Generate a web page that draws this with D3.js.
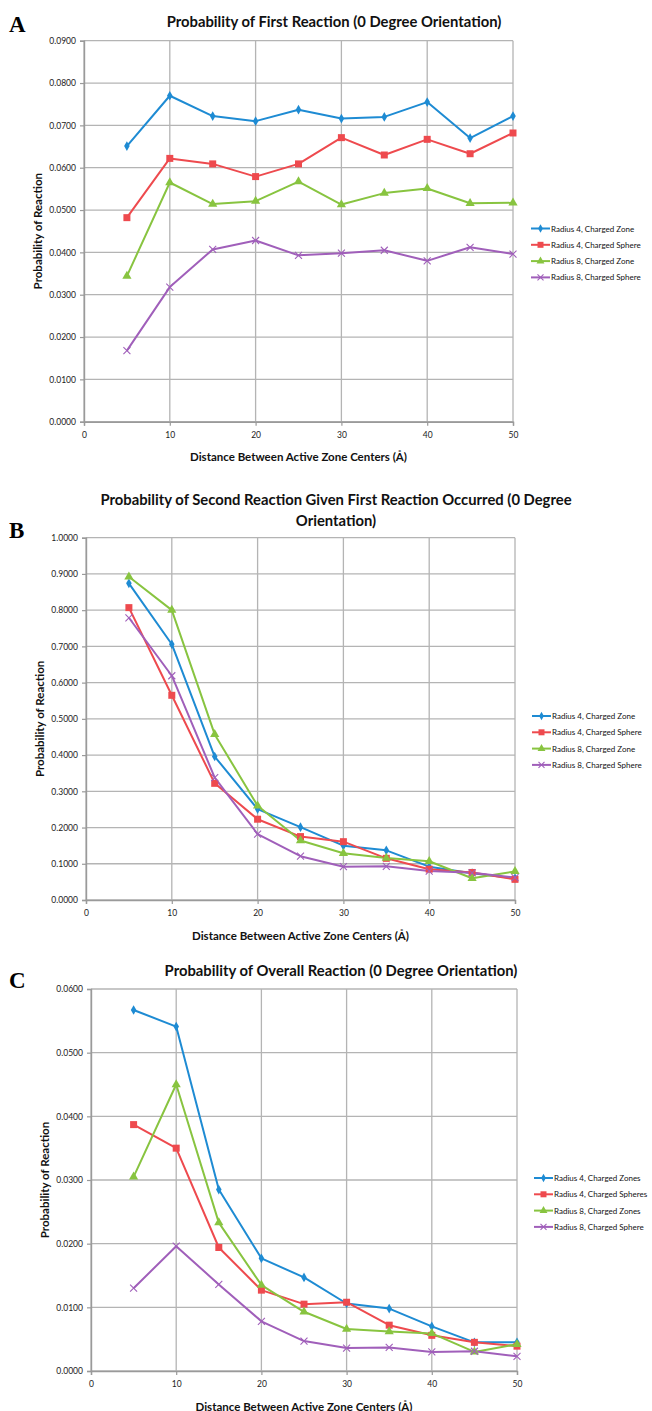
<!DOCTYPE html>
<html><head><meta charset="utf-8">
<script src="https://cdn.jsdelivr.net/npm/d3@7/dist/d3.min.js"></script>
<style>body{margin:0;background:#fff}svg{display:block}</style>
</head><body>
<svg id="c" width="652" height="1411"></svg>
<script>
const distances = [5,10,15,20,25,30,35,40,45,50];
const xTicks = [0,10,20,30,40,50];

const seriesNamesAB = ["Radius 4, Charged Zone","Radius 4, Charged Sphere","Radius 8, Charged Zone","Radius 8, Charged Sphere"];
const seriesNamesC = ["Radius 4, Charged Zones","Radius 4, Charged Spheres","Radius 8, Charged Zones","Radius 8, Charged Sphere"];

// Panel A: Probability of First Reaction
const firstR4Zone   = [0.0651,0.0770,0.0722,0.0710,0.0737,0.0716,0.0720,0.0755,0.0670,0.0722];
const firstR4Sphere = [0.0482,0.0622,0.0609,0.0579,0.0609,0.0671,0.0630,0.0667,0.0633,0.0682];
const firstR8Zone   = [0.0344,0.0565,0.0514,0.0521,0.0567,0.0513,0.0540,0.0551,0.0516,0.0517];
const firstR8Sphere = [0.0168,0.0318,0.0407,0.0428,0.0393,0.0398,0.0405,0.0380,0.0412,0.0396];

// Panel B: Probability of Second Reaction Given First
const secondR4Zone   = [0.874,0.706,0.396,0.251,0.201,0.150,0.137,0.092,0.074,0.060];
const secondR4Sphere = [0.807,0.565,0.322,0.223,0.175,0.161,0.115,0.085,0.076,0.057];
const secondR8Zone   = [0.892,0.800,0.457,0.260,0.164,0.129,0.116,0.107,0.060,0.079];
const secondR8Sphere = [0.779,0.619,0.338,0.182,0.121,0.092,0.093,0.080,0.075,0.062];

// Panel C: Probability of Overall Reaction
const overallR4Zone   = [0.0567,0.0541,0.0285,0.0177,0.0147,0.0106,0.0098,0.0070,0.0045,0.0045];
const overallR4Sphere = [0.0387,0.0350,0.0194,0.0127,0.0105,0.0108,0.0072,0.0056,0.0045,0.0039];
const overallR8Zone   = [0.0305,0.0450,0.0233,0.0135,0.0093,0.0066,0.0062,0.0059,0.0030,0.0042];
const overallR8Sphere = [0.0130,0.0196,0.0136,0.0078,0.0047,0.0036,0.0037,0.0030,0.0031,0.0023];

const yTicksA = [0,0.01,0.02,0.03,0.04,0.05,0.06,0.07,0.08,0.09];
const yTicksB = [0,0.1,0.2,0.3,0.4,0.5,0.6,0.7,0.8,0.9,1.0];
const yTicksC = [0,0.01,0.02,0.03,0.04,0.05,0.06];

const colors = ["#1e8bd3","#ee4a4e","#88c440","#a05fba"];
const markers = ["diamond","square","triangle","cross"];

const svg = d3.select("#c");
const FONT = "Lato, 'Open Sans', sans-serif";

function marker(g, type, x, y, color, s) {
  if (type === "cross") {
    const h = s*0.5;
    g.append("path").attr("d",`M${x-h},${y-h}L${x+h},${y+h}M${x-h},${y+h}L${x+h},${y-h}`)
      .attr("stroke",color).attr("stroke-width",1.1).attr("fill","none");
  } else {
    const sym = type==="diamond"? d3.symbolDiamond : type==="square"? d3.symbolSquare : d3.symbolTriangle;
    const size = type==="diamond"? s*s*0.55 : type==="square"? s*s*1.0 : s*s*0.75;
    g.append("path").attr("d", d3.symbol().type(sym).size(size)())
      .attr("transform",`translate(${x},${y})`).attr("fill",color);
  }
}

function panel(cfg) {
  const g = svg.append("g");
  const x = d3.scaleLinear().domain([0,50]).range([cfg.x0,cfg.x1]);
  const y = d3.scaleLinear().domain([0,cfg.yMax]).range([cfg.yBot,cfg.yTop]);
  // gridlines
  g.append("g").selectAll("line").data(cfg.yTicks).join("line")
    .attr("x1",cfg.x0).attr("x2",cfg.x1).attr("y1",d=>y(d)).attr("y2",d=>y(d))
    .attr("stroke","#b4b4b4").attr("stroke-width",1.3);
  g.append("g").selectAll("line").data(xTicks).join("line")
    .attr("x1",d=>x(d)).attr("x2",d=>x(d)).attr("y1",cfg.yTop).attr("y2",cfg.yBot)
    .attr("stroke","#b4b4b4").attr("stroke-width",1.3);
  // axes
  const yAxis = d3.axisLeft(y).tickValues(cfg.yTicks).tickFormat(d3.format(".4f")).tickSize(4).tickPadding(4);
  const ya = g.append("g").attr("transform",`translate(${cfg.x0},0)`).call(yAxis);
  const xAxis = d3.axisBottom(x).tickValues(xTicks).tickFormat(d3.format("d")).tickSize(4).tickPadding(6);
  const xa = g.append("g").attr("transform",`translate(0,${cfg.yBot})`).call(xAxis);
  [ya,xa].forEach(a=>{
    a.select(".domain").attr("stroke","#9a9a9a").attr("stroke-width",1.4);
    a.selectAll(".tick line").attr("stroke","#9a9a9a").attr("stroke-width",1.2);
    a.selectAll(".tick text").attr("font-family",FONT).attr("font-size",8.5).attr("fill","#222");
  });
  // series
  const line = d3.line().x((d,i)=>x(distances[i])).y(d=>y(d));
  cfg.series.forEach((s,k)=>{
    g.append("path").datum(s).attr("d",line).attr("fill","none")
      .attr("stroke",colors[k]).attr("stroke-width",2).attr("stroke-linejoin","round");
  });
  cfg.series.forEach((s,k)=>{
    s.forEach((v,i)=>marker(g,markers[k],x(distances[i]),y(v),colors[k],7));
  });
  // titles
  cfg.title.forEach((t,i)=>{
    g.append("text").attr("x",cfg.titleX).attr("y",cfg.titleY+i*21).attr("text-anchor","middle")
      .attr("dominant-baseline","central").attr("font-family",FONT).attr("font-weight","bold")
      .attr("font-size",14.8).attr("fill","#111").text(t);
  });
  g.append("text").attr("x",(cfg.x0+cfg.x1)/2).attr("y",cfg.yBot+35).attr("text-anchor","middle")
    .attr("dominant-baseline","central").attr("font-family",FONT).attr("font-weight","bold")
    .attr("font-size",11.5).attr("fill","#111").text("Distance Between Active Zone Centers (Å)");
  g.append("text").attr("transform",`translate(${cfg.yLabelX},${(cfg.yTop+cfg.yBot)/2}) rotate(-90)`)
    .attr("text-anchor","middle").attr("dominant-baseline","central").attr("font-family",FONT)
    .attr("font-weight","bold").attr("font-size",11.5).attr("fill","#111").text("Probability of Reaction");
  // panel letter
  g.append("text").attr("x",9).attr("y",cfg.letterY).attr("font-family","'Liberation Serif', 'DejaVu Serif', serif")
    .attr("font-weight","bold").attr("font-size",23).attr("fill","#000").text(cfg.letter);
  // legend
  cfg.names.forEach((n,k)=>{
    const ly = cfg.legY + k*16.3;
    g.append("line").attr("x1",cfg.legX).attr("x2",cfg.legX+19).attr("y1",ly).attr("y2",ly)
      .attr("stroke",colors[k]).attr("stroke-width",2);
    marker(g,markers[k],cfg.legX+9.5,ly,colors[k],6);
    g.append("text").attr("x",cfg.legX+20).attr("y",ly).attr("dominant-baseline","central")
      .attr("font-family",FONT).attr("font-size",8).attr("fill","#111").text(n);
  });
}

panel({x0:84,x1:513,yTop:40.7,yBot:421.7,yMax:0.09,yTicks:yTicksA,
  series:[firstR4Zone,firstR4Sphere,firstR8Zone,firstR8Sphere],
  title:["Probability of First Reaction (0 Degree Orientation)"],titleX:334,titleY:21,
  yLabelX:37,letter:"A",letterY:32,names:seriesNamesAB,legX:531,legY:228.5});
panel({x0:86,x1:515,yTop:537.7,yBot:900,yMax:1.0,yTicks:yTicksB,
  series:[secondR4Zone,secondR4Sphere,secondR8Zone,secondR8Sphere],
  title:["Probability of Second Reaction Given First Reaction Occurred (0 Degree","Orientation)"],titleX:336,titleY:498.5,
  yLabelX:39,letter:"B",letterY:538,names:seriesNamesAB,legX:532,legY:716});
panel({x0:91,x1:517,yTop:989,yBot:1371,yMax:0.06,yTicks:yTicksC,
  series:[overallR4Zone,overallR4Sphere,overallR8Zone,overallR8Sphere],
  title:["Probability of Overall Reaction (0 Degree Orientation)"],titleX:341,titleY:970,
  yLabelX:44,letter:"C",letterY:988,names:seriesNamesC,legX:534,legY:1178});
</script>
</body></html>
